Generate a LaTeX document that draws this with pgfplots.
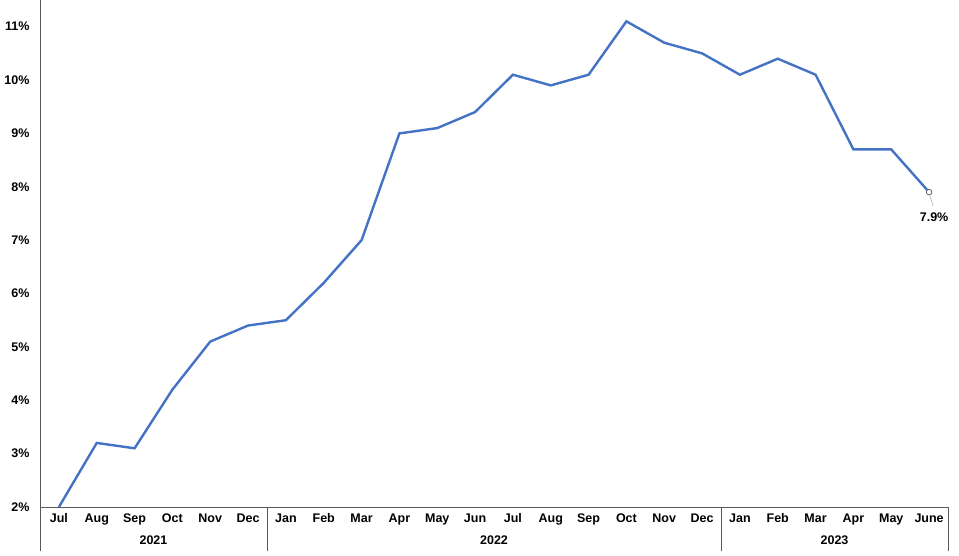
\documentclass[border=0pt]{standalone}
\usepackage{pgfplots}
\pgfplotsset{compat=1.18}
\usepackage{fontspec}
\setmainfont{Liberation Sans}

\definecolor{lineblue}{HTML}{4472C4}
\definecolor{axisgray}{HTML}{595959}

\begin{document}
\begin{tikzpicture}[font=\fontsize{12.5}{14}\selectfont\bfseries]
\useasboundingbox (-40pt,-49pt) rectangle (919pt,507pt);
\begin{axis}[
    scale only axis,
    width=908pt,
    height=507pt,
    at={(0pt,0pt)},
    anchor=south west,
    xmin=-0.5, xmax=23.5,
    ymin=2, ymax=11.5,
    axis x line=bottom,
    axis y line=left,
    axis line style={-, axisgray, line width=0.8pt},
    xtick={0,...,23},
    xticklabels={Jul,Aug,Sep,Oct,Nov,Dec,Jan,Feb,Mar,Apr,May,Jun,Jul,Aug,Sep,Oct,Nov,Dec,Jan,Feb,Mar,Apr,May,June},
    ytick={2,3,...,11},
    yticklabel={\pgfmathprintnumber{\tick}\%},
    /pgf/number format/assume math mode=true,
    major tick length=0pt,
    xticklabel style={anchor=base, yshift=-16pt, inner sep=0pt},
    yticklabel style={anchor=east, xshift=-7pt},
    clip=false,
]
\addplot[lineblue, line width=2.4pt, mark=none] coordinates {
    (0,2.0) (1,3.2) (2,3.1) (3,4.2) (4,5.1) (5,5.4)
    (6,5.5) (7,6.2) (8,7.0) (9,9.0) (10,9.1) (11,9.4)
    (12,10.1) (13,9.9) (14,10.1) (15,11.1) (16,10.7) (17,10.5)
    (18,10.1) (19,10.4) (20,10.1) (21,8.7) (22,8.7) (23,7.9)
};
\addplot[only marks, mark=*, mark size=2.8pt, mark options={draw=gray!80!black, fill=white, line width=0.8pt}] coordinates {(23,7.9)};

% leader line and data label
\draw[gray!60, line width=0.6pt] ([xshift=1pt,yshift=-4pt]axis cs:23,7.9) -- ([xshift=4pt,yshift=-14pt]axis cs:23,7.9);
\node[anchor=base, inner sep=0pt] at ([xshift=5pt,yshift=-29pt]axis cs:23,7.9) {7.9\%};

% group separators under the x axis
\draw[axisgray, line width=0.8pt] (axis cs:-0.5,11.5) -- ([yshift=-44pt]axis cs:-0.5,2);
\draw[axisgray, line width=0.8pt] (axis cs:5.5,2) -- ([yshift=-44pt]axis cs:5.5,2);
\draw[axisgray, line width=0.8pt] (axis cs:17.5,2) -- ([yshift=-44pt]axis cs:17.5,2);
\draw[axisgray, line width=0.8pt] (axis cs:23.5,2) -- ([yshift=-44pt]axis cs:23.5,2);

% year labels
\node[anchor=base, inner sep=0pt] at ([yshift=-38pt]axis cs:2.5,2) {2021};
\node[anchor=base, inner sep=0pt] at ([yshift=-38pt]axis cs:11.5,2) {2022};
\node[anchor=base, inner sep=0pt] at ([yshift=-38pt]axis cs:20.5,2) {2023};
\end{axis}
\end{tikzpicture}
\end{document}
